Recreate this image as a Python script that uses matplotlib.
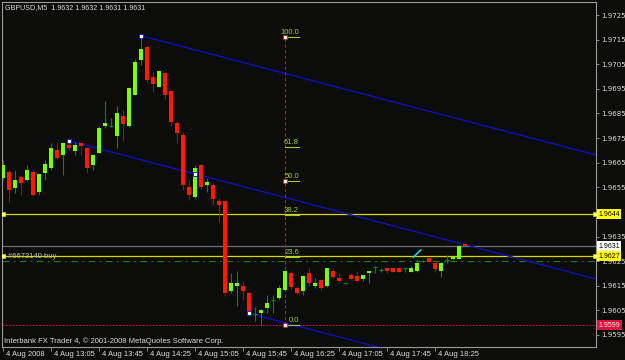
import matplotlib
matplotlib.use('Agg')
import matplotlib.pyplot as plt
import matplotlib.transforms as mtransforms

# GBPUSD M5 bars, 4 Aug 2008 12:25 .. 18:50
opens = [1.96588, 1.96613, 1.96546, 1.96591, 1.96580, 1.96613, 1.96530, 1.96609,
         1.96627, 1.96702, 1.96681, 1.96722, 1.96699, 1.96729, 1.96708, 1.96641,
         1.96691, 1.96799, 1.96799, 1.96758, 1.96840, 1.96799, 1.96926, 1.97067,
         1.97121, 1.96999, 1.96959, 1.97013, 1.96941, 1.96810, 1.96762, 1.96550,
         1.96509, 1.96641, 1.96559, 1.96559, 1.96494, 1.96494, 1.96130, 1.96149,
         1.96150, 1.96119, 1.96035, 1.96038, 1.96061, 1.96092, 1.96099, 1.96133,
         1.96201, 1.96140, 1.96130, 1.96201, 1.96149, 1.96173, 1.96149, 1.96210,
         1.96183, 1.96162, 1.96192, 1.96190, 1.96179, 1.96201, 1.96225, 1.96214,
         1.96221, 1.96221, 1.96221, 1.96221, 1.96207, 1.96210, 1.96251, 1.96262,
         1.96244, 1.96210, 1.96255, 1.96257, 1.96259, 1.96320]
highs = [1.96661, 1.96620, 1.96620, 1.96596, 1.96641, 1.96620, 1.96608, 1.96661,
         1.96729, 1.96729, 1.96734, 1.96739, 1.96735, 1.96730, 1.96714, 1.96685,
         1.96799, 1.96901, 1.96830, 1.96880, 1.96864, 1.96958, 1.97070, 1.97166,
         1.97128, 1.97020, 1.97027, 1.97020, 1.96945, 1.96819, 1.96776, 1.96580,
         1.96641, 1.96645, 1.96587, 1.96567, 1.96505, 1.96498, 1.96203, 1.96211,
         1.96171, 1.96125, 1.96062, 1.96056, 1.96112, 1.96112, 1.96153, 1.96214,
         1.96211, 1.96149, 1.96194, 1.96221, 1.96180, 1.96177, 1.96224, 1.96221,
         1.96201, 1.96162, 1.96201, 1.96210, 1.96194, 1.96211, 1.96230, 1.96221,
         1.96222, 1.96222, 1.96222, 1.96221, 1.96230, 1.96257, 1.96255, 1.96263,
         1.96244, 1.96246, 1.96275, 1.96273, 1.96316, 1.96320]
lows = [1.96580, 1.96491, 1.96528, 1.96519, 1.96576, 1.96515, 1.96519, 1.96580,
        1.96620, 1.96665, 1.96600, 1.96702, 1.96681, 1.96681, 1.96609, 1.96620,
        1.96689, 1.96790, 1.96796, 1.96708, 1.96739, 1.96795, 1.96925, 1.97047,
        1.96979, 1.96938, 1.96958, 1.96909, 1.96799, 1.96729, 1.96539, 1.96498,
        1.96507, 1.96543, 1.96532, 1.96478, 1.96410, 1.96108, 1.96119, 1.96068,
        1.96092, 1.96024, 1.96008, 1.95991, 1.96038, 1.96041, 1.96092, 1.96129,
        1.96136, 1.96116, 1.96112, 1.96149, 1.96140, 1.96133, 1.96145, 1.96180,
        1.96169, 1.96162, 1.96177, 1.96169, 1.96171, 1.96162, 1.96201, 1.96207,
        1.96201, 1.96206, 1.96206, 1.96207, 1.96206, 1.96206, 1.96246, 1.96246,
        1.96207, 1.96187, 1.96241, 1.96255, 1.96257, 1.96310]
closes = [1.96641, 1.96539, 1.96580, 1.96569, 1.96620, 1.96519, 1.96603, 1.96643,
          1.96708, 1.96668, 1.96729, 1.96708, 1.96722, 1.96719, 1.96627, 1.96681,
          1.96790, 1.96810, 1.96799, 1.96851, 1.96807, 1.96952, 1.97060, 1.97111,
          1.96986, 1.96970, 1.97023, 1.96925, 1.96817, 1.96769, 1.96559, 1.96519,
          1.96627, 1.96550, 1.96573, 1.96501, 1.96478, 1.96119, 1.96162, 1.96162,
          1.96130, 1.96041, 1.96035, 1.96051, 1.96079, 1.96092, 1.96140, 1.96210,
          1.96146, 1.96119, 1.96190, 1.96162, 1.96162, 1.96140, 1.96221, 1.96187,
          1.96171, 1.96162, 1.96179, 1.96171, 1.96192, 1.96211, 1.96225, 1.96214,
          1.96210, 1.96207, 1.96207, 1.96221, 1.96221, 1.96241, 1.96251, 1.96248,
          1.96218, 1.96244, 1.96255, 1.96271, 1.96313, 1.96310]

time_labels = ['4 Aug 2008', '4 Aug 13:05', '4 Aug 13:45', '4 Aug 14:25', '4 Aug 15:05',
               '4 Aug 15:45', '4 Aug 16:25', '4 Aug 17:05', '4 Aug 17:45', '4 Aug 18:25']
label_bars = [0, 8, 16, 24, 32, 40, 48, 56, 64, 72]
price_ticks = [1.9595, 1.9605, 1.9615, 1.9625, 1.9635, 1.9645, 1.9655,
               1.9665, 1.9675, 1.9685, 1.9695, 1.9705, 1.9715, 1.9725]
hidden_tick = 1.9645   # covered by the 1.9644 box

# objects on the chart
level_a = 1.9644      # yellow line
order_price = 1.9627  # #6672140 buy
bid = 1.9631
tp_line = 1.9625
stop_line = 1.9599
fib_low, fib_high = 1.9599, 1.9716
fib_levels = [0.0, 23.6, 38.2, 50.0, 61.8, 100.0]
fib_bar = 47.05
chan_slope = -0.0000639          # per bar
chan_base = (10.95, 1.96739)     # lower main line anchor
chan_base2 = (32.0, 1.96605)
chan_top = (23.0, 1.97166)
chan_low = (41.0, 1.96038)
arrow_bars = (68.4, 69.6)
arrow_prices = (1.96266, 1.96295)

bg = '#0c0c0a'
fg = '#dcdcdc'
bull, bear = '#7cfc00', '#ff1a00'
bull_wick, bear_wick = '#0a8a0a', '#8c1a12'

fig = plt.figure(figsize=(6.25, 3.6), dpi=100, facecolor=bg)
ax = fig.add_axes([2 / 625, 13 / 360, 594 / 625, 345 / 360], facecolor=bg)
ax.set_xlim(-0.167, 98.83)
ax.set_ylim(1.95901, 1.97303)

plt.rcParams['font.family'] = ['Liberation Sans', 'DejaVu Sans']
fs = 5.5
fs_axis = 5.0

# horizontal lines
ax.axhline(level_a, color='#d8d800', lw=0.9, zorder=2)
ax.axhline(order_price, color='#d8d800', lw=0.9, zorder=2)
ax.axhline(bid, color='#6c6c74', lw=0.9, zorder=2)
ax.axhline(tp_line, color='#1f7a1f', lw=0.8, ls=(0, (6, 4, 1.5, 4)), zorder=2)
ax.axhline(stop_line, color='#b0103a', lw=0.8, ls=(0, (2, 1)), zorder=2)
for p in (level_a, order_price):
    ax.plot([0, 98.6], [p, p], ls='none', marker='s', ms=3, mfc='#ffff80',
            mec='#d8d800', mew=0.5, zorder=6)

# channel lines
xr = 98.83
for (x0, y0) in (chan_base, chan_top, chan_low):
    ax.plot([x0, xr], [y0, y0 + chan_slope * (xr - x0)], color='#1010c8', lw=0.9, zorder=3)

# fibonacci
fib_range = fib_high - fib_low
ax.plot([fib_bar, fib_bar], [fib_low, fib_high], color='#c01818', lw=0.8,
        ls=(0, (3, 2)), zorder=3)
for lv in fib_levels:
    p = fib_low + fib_range * lv / 100
    ax.plot([fib_bar, 49.33], [p, p], color='#9acd32', lw=0.8, zorder=3)
    ax.text(49.33, p + 0.00004, '%.1f' % lv, color='#9acd32', fontsize=fs,
            ha='right', va='bottom', zorder=7)

# candles
for i in range(len(opens)):
    o, h, l, c = opens[i], highs[i], lows[i], closes[i]
    if c > o:
        ax.vlines(i, l, h, color=bull_wick, lw=0.8, zorder=4)
        ax.bar(i, c - o, bottom=o, width=0.62, color=bull, lw=0, zorder=5)
    elif c < o:
        ax.vlines(i, l, h, color=bear_wick, lw=0.8, zorder=4)
        ax.bar(i, o - c, bottom=c, width=0.62, color=bear, lw=0, zorder=5)
    else:
        ax.vlines(i, l, h, color=bull_wick, lw=0.8, zorder=4)
        ax.hlines(o, i - 0.35, i + 0.35, color=bull_wick, lw=0.9, zorder=5)

# anchor markers
for (x0, y0) in (chan_base, chan_base2, chan_top, chan_low):
    ax.plot(x0, y0, marker='s', ms=2.6, mfc='white', mec='#1010c8', mew=0.6, zorder=8)
for lv in (0.0, 50.0, 100.0):
    ax.plot(fib_bar, fib_low + fib_range * lv / 100, marker='s', ms=2.4,
            mfc='#ffe0e0', mec='#c01818', mew=0.5, zorder=8)

ax.plot(arrow_bars, arrow_prices, color='#20d0e0', lw=1.2, zorder=8)

ax.text(0.8, order_price, '#6672140 buy', color='#b8b8b8', fontsize=fs,
        va='center', ha='left', zorder=7)

# axes
for s in ax.spines.values():
    s.set_color('#9a9a9a')
    s.set_linewidth(0.8)
ax.yaxis.tick_right()
ax.set_yticks(price_ticks)
ax.set_yticklabels(['' if v == hidden_tick else '%.4f' % v for v in price_ticks])
ax.tick_params(axis='y', colors='#9a9a9a', labelcolor=fg, labelsize=fs_axis,
               length=2, width=0.6, pad=2)
ax.set_xticks(label_bars)
ax.set_xticklabels([])
ax.tick_params(axis='x', colors='#9a9a9a', length=3, width=0.6)
tr = mtransforms.blended_transform_factory(ax.transData, ax.transAxes)
for b, lab in zip(label_bars, time_labels):
    ax.text(b + 0.45, -0.012, lab, transform=tr, color=fg, fontsize=fs,
            ha='left', va='top', clip_on=False)

# price boxes on the axis
trr = mtransforms.blended_transform_factory(ax.transAxes, ax.transData)
for p, fc, tc in ((level_a, '#ffff00', 'black'), (bid, 'white', 'black'),
                  (order_price, '#ffff00', 'black'), (stop_line, '#dc143c', '#ffe8e8')):
    ax.text(1.004, p, '%.4f' % p, transform=trr, color=tc, fontsize=fs_axis,
            ha='left', va='center', clip_on=False, zorder=10,
            bbox=dict(boxstyle='square,pad=0.2', fc=fc, ec='none'))

fig.text(5 / 625, 1 - 8 / 360, 'GBPUSD,M5  1.9632 1.9632 1.9631 1.9631',
         color=fg, fontsize=5.1, ha='left', va='center')
fig.text(4 / 625, 1 - 341.5 / 360,
         'Interbank FX Trader 4, \u00a9 2001-2008 MetaQuotes Software Corp.',
         color=fg, fontsize=fs, ha='left', va='center')

fig.savefig('out.png', dpi=100, facecolor=bg)
